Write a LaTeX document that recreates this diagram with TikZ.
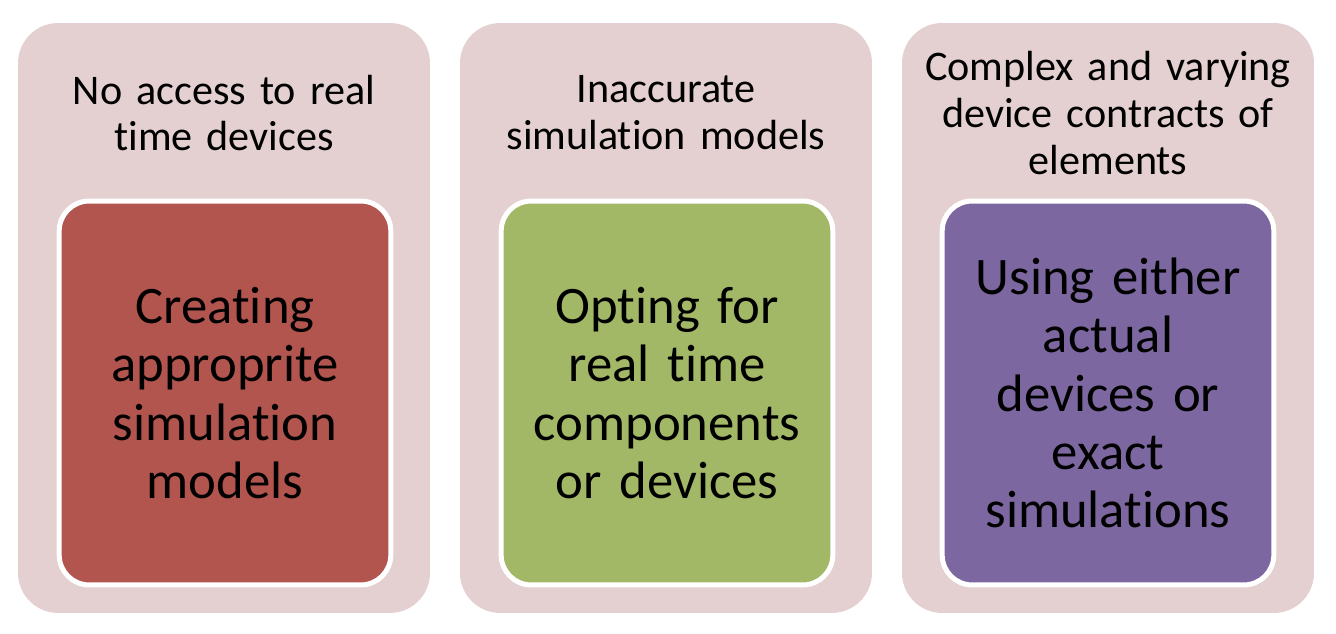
\documentclass[tikz,border=0pt]{standalone}
\usepackage{fontspec}
\setmainfont{Carlito}[Ligatures=CommonOff]
\definecolor{panelpink}{HTML}{E4D0D0}
\definecolor{solred}{HTML}{B3554F}
\definecolor{solgreen}{HTML}{A3B866}
\definecolor{solpurple}{HTML}{7C67A0}
\tikzset{
  panel/.style={fill=panelpink, draw=none, rounded corners=0.8cm,
    minimum width=8.24cm, minimum height=11.8cm},
  head/.style={align=center, font=\fontsize{24}{26.6}\selectfont, text width=8.2cm},
  solution/.style={draw=white, line width=0.1cm, rounded corners=0.6cm,
    minimum width=6.58cm, minimum height=7.68cm, align=center,
    text width=6.4cm, font=\fontsize{30}{33.2}\selectfont}
}
\begin{document}
\begin{tikzpicture}[x=0.02cm, y=-0.02cm]
  \useasboundingbox (0,0) rectangle (1336,634);

  % back panels
  \node[panel] (panelA) at (224,318) {};
  \node[panel] (panelB) at (666,318) {};
  \node[panel] (panelC) at (1108,318) {};

  % problems
  \node[head] (probA) at (224,113) {No access to real\\time devices};
  \node[head] (probB) at (666,113) {Inaccurate\\simulation models};
  \node[head] (probC) at (1108,113) {Complex and varying\\device contracts of\\elements};

  % solutions
  \node[solution, fill=solred] (solA) at (225,393)
    {Creating\\approprite\\simulation\\models};
  \node[solution, fill=solgreen] (solB) at (667,393)
    {Opting for\\real time\\components\\or devices};
  \node[solution, fill=solpurple] (solC) at (1108,393)
    {Using either\\actual\\devices or\\exact\\simulations};
\end{tikzpicture}
\end{document}
